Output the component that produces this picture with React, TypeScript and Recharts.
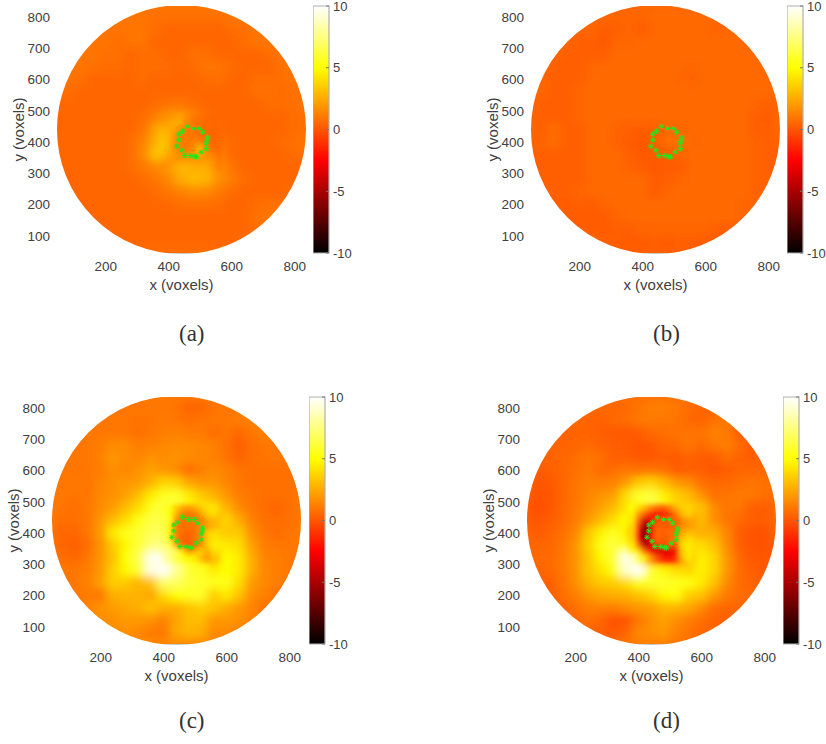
import { Bar, ComposedChart, ReferenceDot, Scatter, ScatterChart, XAxis, YAxis } from "recharts";

const GRID_X = [40, 80, 120, 160, 200, 240, 280, 320, 360, 400, 440, 480, 520, 560, 600, 640, 680, 720, 760, 800, 840];
const GRID_Y = [840, 800, 760, 720, 680, 640, 600, 560, 520, 480, 440, 400, 360, 320, 280, 240, 200, 160, 120, 80, 40];
const DETAIL_X = [380, 400, 420, 440, 460, 480, 500, 520, 540, 560];
const DETAIL_Y = [480, 460, 440, 420, 400, 380, 360, 340, 320];
const X_TICKS = [200, 400, 600, 800];
const Y_TICKS = [100, 200, 300, 400, 500, 600, 700, 800];
const BAR_TICKS = [-10, -5, 0, 5, 10];
const HOT_STOPS = [-10, -2.5, 5, 10];

// the green markers are the same ring in all four panels
const RING_X = [459, 479, 497, 508, 523, 523, 519, 519, 503, 488, 483, 470, 451, 442, 426, 432, 432, 444];
const RING_Y = [451, 444, 444, 432, 416, 407, 397, 379, 368, 353, 354, 357, 357, 374, 387, 407, 426, 435];

const VALUES_A = [
  [.9, .9, .9, .9, .9, .9, .9, .9, .9, .9, .9, .9, .9, .9, .9, .9, .9, .9, .9, .9, .9],
  [.9, .9, .9, .9, .9, .9, .9, .9, .8, .8, .8, .8, .8, .8, .9, .9, .9, .9, .9, .9, .9],
  [.9, .9, .9, .9, .9, .9, .9, .9, .7, .5, .5, .5, .5, .5, .7, .8, .9, 1.1, .9, .9, .9],
  [.9, .9, .9, .9, .9, .7, .9, .9, .5, .5, .5, .5, .5, .5, .5, .7, .9, .9, 1.1, .9, .9],
  [.9, .9, .9, .9, .8, .8, .5, .7, .7, .5, .5, .8, .8, .5, .5, .5, .5, .7, .9, .9, .9],
  [.9, .9, .9, .8, .7, .7, .5, .7, .7, .7, .5, .7, .9, .9, .7, .5, .5, .5, .8, .9, .9],
  [.9, .9, .8, .5, .5, .5, .5, .7, .5, .5, .5, .5, .7, .8, .5, .5, .7, .7, .8, .9, .9],
  [.8, .7, .5, .5, .5, .5, .5, .5, .5, .5, .5, .5, .5, .5, .5, .5, .8, .8, .7, .8, .9],
  [.5, .5, .5, .5, .5, .5, .5, .5, .7, .9, 1, .7, .5, .5, .5, .5, .5, .7, .7, .8, .9],
  [.5, .5, .5, .5, .5, .5, .5, .7, 1.2, 1.8, 2, 1.4, .7, .5, .5, .5, .5, .5, .5, .7, .8],
  [.5, .5, .5, .5, .5, .5, .5, .9, 2.2, 3, 1.8, 1, .7, .6, .5, .5, .5, .5, .5, .7, .8],
  [.5, .5, .5, .5, .5, .5, .7, 1.3, 2.6, 3.4, 1.5, .8, 1.4, 1, .6, .5, .5, .5, .7, .8, .9],
  [.5, .5, .5, .5, .5, .5, .7, 1.5, 3.2, 3.4, 1.5, 2.4, 3, 1.5, .6, .5, .5, .5, .5, .7, .8],
  [.5, .5, .5, .5, .5, .5, .7, 1, 1.5, 2, 2.8, 2.8, 2.8, 1.8, .9, .5, .5, .5, .5, .5, .5],
  [.5, .5, .5, .5, .5, .5, .5, .7, 1, 1.5, 2.5, 3, 2.8, 1.7, 1.2, .7, .5, .5, .5, .5, .5],
  [.5, .5, .5, .5, .5, .5, .5, .5, .7, 1, 1.3, 1.6, 1.5, 1.1, .7, .5, .5, .5, .5, .7, .7],
  [.5, .5, .5, .5, .5, .5, .5, .5, .5, .6, .8, .8, .8, .7, .5, .5, .7, .8, .8, .8, .7],
  [.5, .5, .5, .5, .5, .5, .5, .5, .5, .5, .5, .5, .5, .5, .5, .5, .8, 1, 1, .8, .7],
  [.5, .5, .5, .5, .5, .5, .5, .5, .5, .5, .5, .5, .5, .5, .5, .5, .8, 1, 1, .7, .6],
  [.7, .7, .7, .7, .5, .5, .5, .5, .5, .5, .5, .5, .5, .5, .5, .7, .8, .8, .7, .7, .7],
  [.7, .7, .7, .7, .7, .7, .7, .7, .7, .7, .7, .7, .7, .7, .7, .7, .7, .7, .7, .7, .7],
];

const DETAIL_A = [
  [1.5, 1.7, 2, 2.2, 1.5, 1, .8, .6, .5, .5],
  [2, 2.3, 2.6, 2.4, 1.4, 1, .8, .6, .5, .5],
  [2.6, 2.6, 2.2, 1.4, 1.1, 1, .8, .6, .5, .5],
  [3, 2.8, 1.8, 1.2, 1, .9, .8, .6, .5, .5],
  [3.2, 2.8, 1.6, 1.1, 1, 1.2, 1.2, .8, .6, .5],
  [3.3, 2.8, 1.7, 1.2, 1, 1.6, 3, 1.4, .8, .6],
  [3, 2.5, 1.8, 1.6, 1.5, 1.8, 2.6, 1.6, 1.2, .8],
  [2.2, 2, 1.9, 2, 2, 2, 1.8, 2, 1.8, 1],
  [1.6, 1.8, 2.4, 2.8, 2.8, 2.6, 2.6, 2.6, 2, 1.2],
];

const VALUES_B = [
  [.5, .5, .5, .5, .5, .5, .5, .5, .5, .5, .5, .5, .5, .5, .5, .5, .5, .5, .5, .5, .5],
  [.5, .5, .5, .5, .5, .5, .5, .5, .5, .5, .6, .6, .6, .6, .6, .6, .5, .5, .5, .5, .5],
  [.5, .5, .5, .5, .5, .5, .2, .3, .5, .2, .6, .6, .6, .6, .6, .4, .6, .6, .6, .6, .5],
  [.5, .5, .5, .5, .3, .3, .1, .5, .5, .6, .6, .6, .6, .6, .6, .6, .6, .6, .6, .6, .5],
  [.5, .5, .5, .3, .3, .3, .3, .6, .6, .6, .6, .6, .6, .6, .6, .6, .6, .6, .6, .6, .6],
  [.5, .5, .3, .3, .3, .5, .6, .6, .6, .6, .6, .6, .6, .5, .6, .6, .6, .6, .6, .6, .6],
  [.5, .5, .3, .3, .3, .6, .6, .6, .6, .6, .6, .6, .5, .4, .6, .6, .6, .6, .6, .6, .6],
  [.5, .5, .3, .3, .5, .6, .6, .6, .6, .6, .6, .6, .6, .6, .6, .6, .6, .6, .6, .6, .6],
  [.5, .3, .3, .3, .5, .6, .6, .6, .6, .6, .6, .6, .6, .6, .6, .6, .6, .6, .5, .3, .5],
  [.5, .3, .3, .3, .5, .6, .6, .6, .6, .6, .6, .6, .6, .6, .6, .6, .6, .6, .3, .2, .5],
  [.5, .3, .7, .3, .3, .6, .6, .4, .3, .2, .3, .6, .5, .6, .6, .6, .6, .6, .3, .3, .6],
  [.4, .4, .7, .3, .3, .6, .6, .4, .2, .1, .2, .7, .9, .5, .6, .6, .6, .6, .4, .3, .4],
  [.3, .3, .3, .3, .3, .6, .6, .6, .3, .1, .2, .2, .5, .6, .6, .6, .6, .6, .4, .3, .3],
  [.3, .3, .3, .3, .3, .6, .6, .6, .4, .2, .1, .2, .2, .6, .6, .6, .6, .6, .4, .3, .3],
  [.5, .3, .3, .3, .3, .6, .6, .6, .6, .6, .2, .3, .5, .6, .6, .6, .6, .6, .4, .3, .5],
  [.5, .5, .3, .3, .5, .6, .6, .6, .6, .6, .2, .5, .6, .6, .6, .6, .6, .6, .4, .3, .5],
  [.5, .5, .3, .2, .3, .2, .5, .6, .6, .6, .6, .6, .6, .6, .6, .6, .6, .5, .4, .3, .5],
  [.5, .5, .5, .2, .2, .2, .2, .5, .6, .6, .6, .6, .6, .6, .6, .6, .6, .5, .3, .5, .5],
  [.5, .5, .5, .5, .3, .2, .2, .3, .3, .5, .5, .5, .5, .5, .5, .3, .3, .2, .3, .5, .5],
  [.5, .5, .5, .5, .5, .5, .3, .3, .2, .2, .3, .2, .3, .3, .2, .2, .3, .3, .5, .5, .5],
  [.3, .3, .3, .3, .3, .3, .3, .3, .3, .3, .3, .3, .3, .3, .3, .3, .3, .3, .3, .3, .3],
];

const VALUES_C = [
  [1, 1, 1, 1, 1, 1, 1, 1, 1, 1, 1, 1, 1, 1, 1, 1, 1, 1, 1, 1, 1],
  [1, 1, 1, 1, 1, 1, 1, 1, 1, 1, .9, .4, .5, .9, 1, 1, 1, 1, 1, 1, 1],
  [1, 1, 1, 1, 1, 1, 1, .9, .9, 1.1, 1, .8, .9, 1, 1, 1.2, 1.3, 1, 1, 1, 1],
  [1, 1, 1, 1, 1, 1, 1, .8, 1, 1.2, 1.3, 1.1, 1.1, .7, 1, .5, 1, 1.3, 1.1, 1, 1],
  [1, 1, 1, 1, 1.2, 1.6, 1.6, 1.2, 1.3, 1.5, 1.6, 1.6, 1.4, 1.3, .8, .3, .8, 1, 1, 1, 1],
  [1, 1, 1, 1, 1.3, 1.9, 1.6, 1.4, 1.8, 1.6, 1.8, 1.6, 1.5, 1.3, .9, .4, .8, .9, 1, 1, 1],
  [1, 1, .9, 1, 1.2, 1.7, 1.4, 1.8, 2.2, 1.9, 1.6, .7, 1.2, 1.6, 1.3, .9, .8, .8, .8, .8, 1],
  [1, 1, 1, .9, 1.4, 1.7, 1.9, 2, 2.8, 3.8, 3.6, 2.4, 1.9, 1.9, 1.4, 1, .8, .8, .8, .8, 1],
  [1, 1, .9, 1, 1.5, 1.8, 2.2, 3, 4.4, 5.6, 5.8, 4.4, 3.4, 2.8, 1.9, 1.2, .9, .8, .8, .8, 1],
  [1, .9, .8, 1, 1.6, 2.1, 3, 4, 5.4, 6.2, 6.2, 5, 4.2, 3.8, 2.8, 1.6, 1, .7, .4, .8, 1],
  [1, .7, .8, 1, 1.9, 3, 4, 5.2, 6.2, 6.4, 5.4, 1.6, 1.2, 2.8, 3.8, 2.5, 1.3, .8, .7, .8, 1],
  [.8, .5, .5, 1, 2, 4.4, 5.4, 6, 6.6, 6.8, 4.8, .6, 1.4, 3.8, 3.4, 3.4, 1.7, 1, .7, .9, 1],
  [.8, .5, .3, .7, 1.8, 3.4, 4.8, 6, 7.2, 8, 6.4, .8, 1.5, 4.5, 4.4, 4, 2.2, 1.2, 1, 1, 1],
  [.9, .7, .5, 1, 1.9, 3.2, 5, 6.4, 9.6, 9, 7, 5.6, 4.4, 3, 5, 4.4, 2.6, 1.4, 1.2, 1, 1],
  [1, 1, 1, 1.2, 1.9, 3.6, 4.8, 5.8, 9.4, 10, 8, 6, 5.6, 4.4, 5, 4.4, 2.6, 1.5, 1.2, 1, 1],
  [1, 1, 1, 1.3, 2.2, 3.6, 3.4, 2.8, 3.3, 7, 6.8, 6.2, 5.8, 5.6, 5.4, 4, 2.1, 1.5, 1.2, 1, 1],
  [1, 1, 1, 1.1, 1, 2.6, 2.8, 2.8, 2.3, 4, 5, 5.6, 5.8, 3.6, 4.4, 3.2, 1.7, 1.3, .8, 1, 1],
  [1, 1, 1, 1.4, 1.8, 2.1, 2.4, 2.6, 3.2, 2.6, 2.6, 3.2, 3.6, 3.2, 2.6, 2, 1.4, .8, 1.2, 1, 1],
  [1, 1, 1, 1.5, 1.7, 1.7, 2, 2, 1.8, 1.3, 2.3, 3, 3, 2, 2, 1.7, 1.3, 1.2, 1.3, 1, 1],
  [1, 1, 1, 1.5, 1.5, 1.7, 1.7, 1.5, 1.1, 1, 2.4, 2.8, 2.6, 1.5, 1.6, 1.4, 1.2, 1, 1, 1, 1],
  [1.5, 1.5, 1.5, 1.5, 1.5, 1.5, 1.5, 1.5, 1.5, 1.5, 1.5, 1.5, 1.5, 1.5, 1.5, 1.5, 1.5, 1.5, 1.5, 1.5, 1.5],
];

const DETAIL_C = [
  [6, 5.8, 5.2, 3.6, 2.4, 2, 2.4, 3.4, 4.2, 4.2],
  [6.4, 6, 5.2, 3, 1.2, 1, 1.2, 2.2, 3.6, 4],
  [6.4, 6.2, 5.6, 1.8, .8, .9, .9, 1.2, 2.4, 3],
  [6.6, 6.4, 4.8, 1.2, .7, .9, .9, 1.6, 2, 2.8],
  [6.8, 6.6, 4.6, 1.2, .8, .2, .9, 1.6, 3.5, 4],
  [7, 6.8, 4.8, 1.2, .4, .3, 1, 1.4, 3.5, 4.2],
  [7.6, 7.4, 6.4, 2.4, .6, 0, .5, 1.6, 3.6, 4.6],
  [8.6, 8, 7.4, 6.4, 4.2, 1.8, 2.6, 3.6, 2.4, 4],
  [10, 8.8, 7.6, 6.4, 5.4, 4.8, 4.4, 3, 2, 3.2],
];

const VALUES_D = [
  [.8, .8, .8, .8, .8, .8, .8, .8, .8, .8, .8, .8, .8, .8, .8, .8, .8, .8, .8, .8, .8],
  [.6, .6, .6, .6, .6, .6, .6, .5, .6, .9, 1.2, 1.2, 1, .7, .4, .4, .4, .6, .6, .6, .6],
  [.6, .6, .6, .6, .6, .4, .3, .6, .7, 1, 1.1, 1, .9, .6, .4, .8, 1.1, .4, .2, .5, .6],
  [.6, .6, .6, .4, .4, .4, .3, .1, .1, .2, .6, .7, .9, .9, .9, 1.3, 1.1, .3, .1, .5, .6],
  [.6, .5, .4, .4, .5, .6, .4, .3, .2, 0, .1, .5, .6, 1, .6, 1, 1.2, .7, .1, .4, .6],
  [.6, .4, .4, .5, .7, 1, .8, .3, .3, .1, .1, .2, .1, .4, .2, .2, .7, .4, .2, .5, .6],
  [.6, .2, .3, .5, .8, 1.1, .6, .7, 1, .8, .9, .8, .2, .3, .3, 0, .2, .5, .5, .6, .8],
  [.4, 0, .1, .5, .9, 1.2, 1.2, 1.3, 2, 3.4, 3.8, 3, 2, 1.6, .8, .6, .6, .8, .9, .8, .8],
  [.3, -.1, 0, .5, .9, 1.4, 1.8, 2.1, 4, 5.8, 6.2, 4.6, 3.6, 3, 1.8, .8, .9, 1, 1, .8, .7],
  [.2, -.2, 0, .5, 1, 1.6, 2.2, 3, 4.2, 5.6, 6.4, 5.2, 3.8, 3.4, 3.2, 1.6, .9, 1, .3, .2, .6],
  [.3, 0, .2, .6, 1.1, 2, 3, 4, 5, 3, -2, -1, 0, 1.8, 3, 1.7, 1, .6, .3, .2, .6],
  [.4, .2, .4, .8, 1.4, 3.2, 4.6, 5.6, 4.6, -.5, -2, 0, .3, 3, 2.6, 2.6, 1.4, .3, 0, -.1, .4],
  [.5, .5, .5, .9, 1.8, 3.6, 5.2, 6.2, 5.4, 2, -2, -.5, .2, 4, 4, 3.2, 1.6, .3, 0, -.1, .2],
  [.6, .6, .6, 1, 1.8, 3.2, 4.8, 6, 9.6, 7.6, 1, -1.5, -1, 3, 4.6, 3.8, 1.9, .6, .1, 0, .3],
  [.6, .5, .6, 1, 1.8, 3.2, 4.2, 5.2, 9, 10, 6, 4.8, 4, 3.8, 4.6, 3.8, 1.9, .7, .3, .1, .3],
  [.6, .3, .3, .9, 1.7, 2.8, 3.4, 3.6, 4, 5.6, 5.8, 5.8, 5.6, 5.2, 4.4, 3.2, 1.6, .7, .4, .2, .4],
  [.6, .3, .3, .7, 1.2, 1.9, 2.4, 2.6, 2.8, 3.2, 3.8, 4.8, 5.2, 3.6, 3.2, 2, 1.1, .7, .6, .4, .6],
  [.6, .4, .3, .4, .8, 1.2, 1.3, 1.2, 1.6, 1.9, 2.1, 2.8, 2.8, 2.4, 1.6, .7, .5, .5, .6, .6, .6],
  [.6, .6, .4, .4, .5, .8, .5, -.1, 0, 1, 1.7, 2.2, 1.7, 1.2, .8, .4, .3, .5, .6, .6, .6],
  [.6, .6, .6, .6, .4, .5, .3, .1, .4, 1.5, 1.7, 2, 1.3, .9, .5, .4, .4, .6, .6, .6, .6],
  [.6, .6, .6, .6, .6, .6, .6, .8, 1, 1.2, 1.2, 1.2, 1, .8, .6, .6, .6, .6, .6, .6, .6],
];

const DETAIL_D = [
  [5, 4, 3, 1.5, .6, .2, 1.2, 2.8, 3.6, 3.8],
  [4.6, 2.2, .2, -1.5, -2, -1.8, -.5, 1, 3, 3.6],
  [4.4, .5, -4, -2.6, -.2, 0, .2, .4, 1.5, 2.4],
  [4, -1, -6, -3, .4, .2, .3, .5, 1.6, 2],
  [3.8, -2, -7, -2.6, .6, .3, .6, .8, 2.5, 3],
  [4, -2, -6.5, -2.6, .6, 0, .6, 1, 3.5, 4],
  [4.6, .5, -5, -3.4, -.6, -.2, .2, .2, 4, 4.4],
  [5.6, 4, .5, -2.6, -3.8, -3.4, -3.4, -3, 3.6, 4.4],
  [9, 6.6, 4.4, 1.8, -.3, -1.6, -2, -1, 3, 4.4],
];

const AXIS_COLOR = "#b0b0b0";
const TEXT_COLOR = "#404040";
const FONT = "'Liberation Sans', Arial, sans-serif";
const PX_PER_VOXEL = 249 / 791;

// MATLAB "hot" stretched over -10..10
function hot(v: number) {
  const t = (Math.min(10, Math.max(-10, v)) + 10) / 20;
  const r = Math.min(1, t / 0.375);
  const g = Math.min(1, Math.max(0, (t - 0.375) / 0.375));
  const b = Math.max(0, (t - 0.75) / 0.25);
  return `rgb(${Math.round(r * 255)},${Math.round(g * 255)},${Math.round(b * 255)})`;
}

function toPoints(xs: number[], ys: number[], rows: number[][]) {
  return rows.flatMap((row, i) => row.map((v, j) => ({ x: xs[j], y: ys[i], v })));
}

const ringPoints = RING_X.map((x, i) => ({ x, y: RING_Y[i] }));

function cellShape(step: number) {
  const size = step * PX_PER_VOXEL + 1;
  return (p: any) => (
    <rect x={p.cx - size / 2} y={p.cy - size / 2} width={size} height={size} fill={hot(p.payload.v)} />
  );
}

function StarMark(p: any) {
  const r = 2.8;
  return (
    <g stroke="#1fe81f" strokeWidth={1}>
      <line x1={p.cx - r} y1={p.cy} x2={p.cx + r} y2={p.cy} />
      <line x1={p.cx} y1={p.cy - r} x2={p.cx} y2={p.cy + r} />
      <line x1={p.cx - 2} y1={p.cy - 2} x2={p.cx + 2} y2={p.cy + 2} />
      <line x1={p.cx - 2} y1={p.cy + 2} x2={p.cx + 2} y2={p.cy - 2} />
    </g>
  );
}

// white ring that trims the heat grid down to the round field of view
function DiskMask(p: any) {
  const width = 70;
  return <circle cx={p.cx} cy={p.cy} r={124.5 + width / 2} fill="none" stroke="#fff" strokeWidth={width} />;
}

function Panel({ left, top, values, detail }: { left: number; top: number; values: number[][]; detail?: number[][] }) {
  const tickStyle = { fontSize: 13.5, fill: TEXT_COLOR, fontFamily: FONT };
  const labelStyle = { fontSize: 15, fill: TEXT_COLOR, fontFamily: FONT };
  return (
    <div style={{ position: "absolute", left: left - 57, top: top - 6 }}>
      <ScatterChart width={310} height={295} margin={{ top: 6, right: 4, bottom: 0, left: 0 }}>
        <XAxis
          type="number"
          dataKey="x"
          domain={[45, 836]}
          allowDataOverflow
          ticks={X_TICKS}
          interval={0}
          tickSize={-3}
          tickMargin={11}
          tick={tickStyle}
          stroke={AXIS_COLOR}
          strokeWidth={1.5}
          height={42}
          label={{ value: "x (voxels)", position: "insideBottom", offset: 5, style: labelStyle }}
        />
        <YAxis
          type="number"
          dataKey="y"
          domain={[45, 836]}
          allowDataOverflow
          ticks={Y_TICKS}
          interval={0}
          tickSize={-3}
          tickMargin={10}
          tick={tickStyle}
          stroke={AXIS_COLOR}
          strokeWidth={1.5}
          width={57}
          label={{ value: "y (voxels)", angle: -90, position: "insideLeft", offset: 8, dx: 11, style: { ...labelStyle, textAnchor: "middle" } }}
        />
        <Scatter
          data={toPoints(GRID_X, GRID_Y, values)}
          className="heat-coarse"
          shape={cellShape(40)}
          isAnimationActive={false}
        />
        {detail && (
          <Scatter
            data={toPoints(DETAIL_X, DETAIL_Y, detail)}
            className="heat-fine"
            shape={cellShape(20)}
            isAnimationActive={false}
          />
        )}
        <ReferenceDot x={440.5} y={440.5} ifOverflow="hidden" shape={DiskMask} />
        <Scatter data={ringPoints} shape={StarMark} isAnimationActive={false} />
      </ScatterChart>
    </div>
  );
}

function ColorBar({ left, top }: { left: number; top: number }) {
  return (
    <div style={{ position: "absolute", left, top: top - 6 }}>
      <ComposedChart
        width={50}
        height={265}
        data={[{ name: "scale", range: [-10, 10] }]}
        margin={{ top: 6, right: 0, bottom: 12, left: 0 }}
        barCategoryGap={0}
      >
        <XAxis dataKey="name" hide />
        <YAxis
          orientation="right"
          domain={[-10, 10]}
          ticks={BAR_TICKS}
          interval={0}
          tickSize={-3}
          tickMargin={7}
          tick={{ fontSize: 13, fill: TEXT_COLOR, fontFamily: FONT }}
          axisLine={false}
          tickLine={{ stroke: "#777" }}
          width={34}
        />
        <Bar dataKey="range" fill="url(#hotScale)" stroke={AXIS_COLOR} strokeWidth={1.2} isAnimationActive={false} />
      </ComposedChart>
    </div>
  );
}

function Caption({ left, top, text }: { left: number; top: number; text: string }) {
  return (
    <div style={{ position: "absolute", left, top, fontFamily: "'Liberation Serif', serif", fontSize: 23, lineHeight: "24px", color: "#333" }}>
      {text}
    </div>
  );
}

export default function App() {
  return (
    <div style={{ position: "fixed", left: 0, top: 0, width: 826, height: 744, background: "#fff", overflow: "hidden" }}>
      <style>{`.heat-coarse{filter:url(#blurCoarse)}.heat-fine{filter:url(#blurFine)}`}</style>
      <svg width={0} height={0} style={{ position: "absolute" }}>
        <defs>
          <filter id="blurCoarse" x="-10%" y="-10%" width="120%" height="120%">
            <feGaussianBlur stdDeviation={4.4} />
          </filter>
          <filter id="blurFine" x="-20%" y="-20%" width="140%" height="140%">
            <feGaussianBlur stdDeviation={2.6} />
          </filter>
          <linearGradient id="hotScale" x1="0" y1="1" x2="0" y2="0">
            {HOT_STOPS.map((v) => (
              <stop key={v} offset={(v + 10) / 20} stopColor={hot(v)} />
            ))}
          </linearGradient>
        </defs>
      </svg>
      <Panel left={57} top={6} values={VALUES_A} detail={DETAIL_A} />
      <ColorBar left={313} top={6} />
      <Panel left={531} top={6} values={VALUES_B} />
      <ColorBar left={787} top={6} />
      <Panel left={52} top={397} values={VALUES_C} detail={DETAIL_C} />
      <ColorBar left={309} top={397} />
      <Panel left={527} top={397} values={VALUES_D} detail={DETAIL_D} />
      <ColorBar left={783} top={397} />
      <Caption left={179} top={322} text="(a)" />
      <Caption left={653} top={322} text="(b)" />
      <Caption left={179} top={709} text="(c)" />
      <Caption left={653} top={709} text="(d)" />
    </div>
  );
}
